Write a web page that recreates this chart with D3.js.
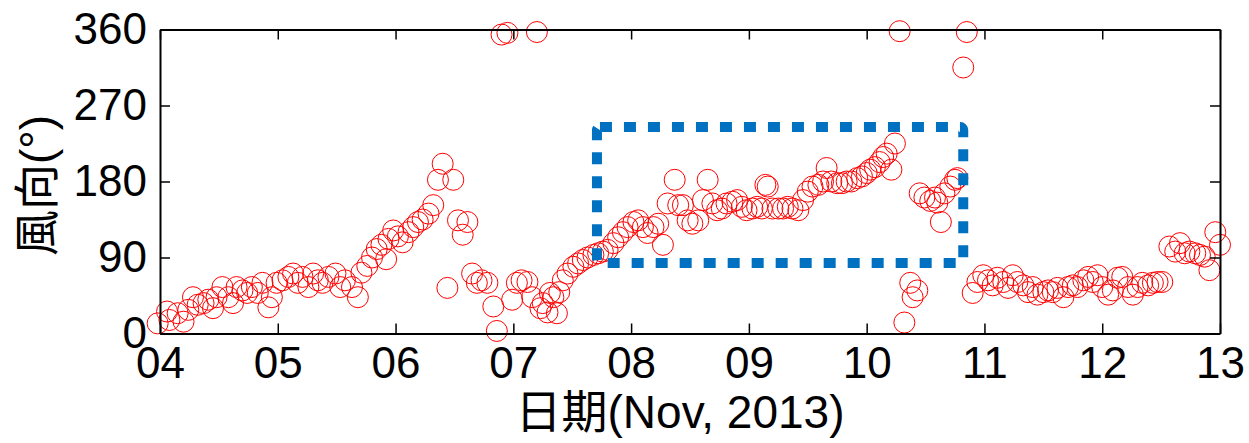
<!DOCTYPE html>
<html>
<head>
<meta charset="utf-8">
<script src="https://cdn.jsdelivr.net/npm/d3@7/dist/d3.min.js"></script>
<style>
  html, body { margin: 0; padding: 0; background: #fff; }
  svg { display: block; }
  .tick text { font-family: "Liberation Sans", Arial, sans-serif; font-size: 44px; fill: #000; }
  .lbl { font-family: "Liberation Sans", Arial, "Noto Sans CJK TC", sans-serif; font-size: 46px; fill: #000; }
</style>
</head>
<body>
<svg id="chart" width="1249" height="443"></svg>
<script>
// Hourly wind direction, Nov 4-13 2013 (day of month, degrees)
const days = [
  3.98, 4.06, 4.08, 4.15, 4.20, 4.24, 4.28, 4.32, 4.37, 4.41, 4.45, 4.48, 4.53, 4.58, 4.62, 4.65,
  4.70, 4.74, 4.78, 4.83, 4.87, 4.92, 4.95, 4.99, 5.04, 5.09, 5.13, 5.17, 5.21, 5.26, 5.30, 5.34,
  5.38, 5.43, 5.49, 5.53, 5.57, 5.63, 5.68, 5.71, 5.76, 5.80, 5.84, 5.88, 5.92, 5.94, 5.98, 6.02,
  6.06, 6.11, 6.15, 6.19, 6.23, 6.28, 6.32, 6.36, 6.40, 6.44, 6.49, 6.53, 6.57, 6.61, 6.65, 6.69,
  6.73, 6.78, 6.83, 6.86, 6.90, 6.95, 6.99, 7.03, 7.07, 7.12, 7.16, 7.20, 7.23, 7.25, 7.29, 7.31,
  7.34, 7.37, 7.39, 7.42, 7.46, 7.51, 7.55, 7.59, 7.63, 7.68, 7.72, 7.76, 7.80, 7.85, 7.89, 7.93,
  7.97, 8.02, 8.06, 8.10, 8.14, 8.19, 8.23, 8.27, 8.31, 8.37, 8.40, 8.44, 8.48, 8.52, 8.57, 8.61,
  8.65, 8.69, 8.73, 8.77, 8.81, 8.86, 8.90, 8.94, 8.98, 9.03, 9.07, 9.11, 9.14, 9.16, 9.20, 9.25,
  9.29, 9.33, 9.37, 9.42, 9.46, 9.50, 9.54, 9.59, 9.63, 9.66, 9.70, 9.75, 9.79, 9.83, 9.87, 9.92,
  9.96, 10.00, 10.03, 10.07, 10.11, 10.14, 10.17, 10.21, 10.24, 10.28, 10.32, 10.37, 10.39, 10.43, 10.45, 10.49,
  10.54, 10.58, 10.60, 10.63, 10.66, 10.71, 10.75, 10.77, 10.82, 10.85, 10.90, 10.94, 10.99, 11.03, 11.07, 11.11,
  11.16, 11.20, 11.24, 11.28, 11.33, 11.37, 11.41, 11.45, 11.50, 11.54, 11.58, 11.62, 11.67, 11.71, 11.75, 11.79,
  11.84, 11.88, 11.92, 11.96, 12.00, 12.05, 12.09, 12.13, 12.17, 12.22, 12.26, 12.30, 12.34, 12.39, 12.43, 12.47,
  12.51, 12.57, 12.62, 12.66, 12.70, 12.74, 12.79, 12.83, 12.87, 12.91, 12.96, 13.00
];
const directions = [
  12, 26, 16, 24, 14, 28, 43, 34, 36, 40, 30, 43, 55, 43, 36, 55,
  51, 48, 55, 48, 60, 31, 43, 60, 63, 67, 71, 60, 67, 55, 71, 63,
  60, 67, 71, 55, 63, 55, 43, 72, 80, 90, 100, 105, 88, 112, 122, 115,
  108, 120, 126, 132, 135, 142, 152, 182, 201, 54, 182, 134, 117, 132, 71, 60,
  63, 60, 32, 3, 354, 356, 40, 60, 63, 61, 43, 357, 30, 36, 25, 48,
  43, 24, 49, 63, 71, 79, 83, 87, 90, 93, 95, 97, 99, 107, 114, 120,
  126, 132, 134, 126, 119, 126, 130, 105, 154, 182, 152, 152, 134, 130, 134, 158,
  182, 154, 146, 148, 154, 156, 158, 150, 146, 148, 150, 148, 176, 174, 148, 148,
  148, 150, 148, 146, 158, 168, 174, 176, 180, 196, 180, 178, 178, 180, 180, 184,
  186, 190, 194, 197, 203, 209, 213, 194, 225, 358, 13, 60, 43, 51, 166, 161,
  157, 161, 155, 132, 166, 174, 182, 184, 315, 357, 48, 61, 69, 63, 57, 66,
  61, 54, 69, 61, 57, 49, 55, 46, 49, 51, 49, 54, 43, 55, 57, 55,
  63, 67, 61, 69, 55, 46, 51, 66, 67, 55, 46, 55, 60, 57, 60, 61,
  61, 103, 97, 107, 95, 97, 95, 93, 91, 75, 120, 105
];

const xTickValues = [4, 5, 6, 7, 8, 9, 10, 11, 12, 13];
const xTickLabels = ["04", "05", "06", "07", "08", "09", "10", "11", "12", "13"];
const yTickValues = [0, 90, 180, 270, 360];

// Highlighted period (days, degrees)
const boxDays = [7.71, 10.82];
const boxDegrees = [83.5, 244.5];

const xLabel = "日期(Nov, 2013)";
const yLabel = "風向(°)";

const svg = d3.select("#chart");
svg.append("rect").attr("width", 1249).attr("height", 443).attr("fill", "#fff");

const plotLeft = 160, plotRight = 1220, plotTop = 29.5, plotBottom = 333.5;
const x = d3.scaleLinear().domain([4, 13]).range([plotLeft, plotRight]);
const y = d3.scaleLinear().domain([0, 360]).range([plotBottom, plotTop]);

const points = days.map((d, i) => ({ day: d, dir: directions[i] }));

// markers
svg.append("g")
  .selectAll("circle")
  .data(points)
  .join("circle")
  .attr("cx", d => x(d.day))
  .attr("cy", d => y(d.dir))
  .attr("r", 10.5)
  .attr("fill", "none")
  .attr("stroke", "#ff0000")
  .attr("stroke-width", 1);

// axes box with inward ticks
function styleAxis(g) {
  g.select(".domain").attr("stroke", "#000").attr("stroke-width", 2);
  g.selectAll(".tick line").attr("stroke", "#000").attr("stroke-width", 1.5);
}

svg.append("g")
  .attr("transform", `translate(0,${plotBottom})`)
  .call(d3.axisBottom(x).tickValues(xTickValues)
    .tickFormat((d, i) => xTickLabels[i])
    .tickSizeInner(-10).tickSizeOuter(0).tickPadding(13))
  .call(styleAxis)
  .call(g => g.attr("font-family", null).attr("font-size", null));

svg.append("g")
  .attr("transform", `translate(0,${plotTop})`)
  .call(d3.axisTop(x).tickValues(xTickValues).tickFormat("")
    .tickSizeInner(-10).tickSizeOuter(0))
  .call(styleAxis);

svg.append("g")
  .attr("transform", `translate(${plotLeft},0)`)
  .call(d3.axisLeft(y).tickValues(yTickValues).tickFormat(d3.format("d"))
    .tickSizeInner(-10).tickSizeOuter(0).tickPadding(13))
  .call(styleAxis)
  .call(g => g.attr("font-family", null).attr("font-size", null));

svg.append("g")
  .attr("transform", `translate(${plotRight},0)`)
  .call(d3.axisRight(y).tickValues(yTickValues).tickFormat("")
    .tickSizeInner(-10).tickSizeOuter(0))
  .call(styleAxis);

// axis titles
svg.append("text")
  .attr("class", "lbl")
  .attr("x", 680)
  .attr("y", 428)
  .attr("text-anchor", "middle")
  .text(xLabel);

svg.append("text")
  .attr("class", "lbl")
  .attr("transform", `translate(37,${(plotTop + plotBottom) / 2 + 4}) rotate(-90)`)
  .attr("text-anchor", "middle")
  .attr("dominant-baseline", "central")
  .text(yLabel);

// dotted highlight box
svg.append("rect")
  .attr("x", x(boxDays[0]))
  .attr("y", y(boxDegrees[1]))
  .attr("width", x(boxDays[1]) - x(boxDays[0]))
  .attr("height", y(boxDegrees[0]) - y(boxDegrees[1]))
  .attr("rx", 3)
  .attr("fill", "none")
  .attr("stroke", "#0070c0")
  .attr("stroke-width", 10)
  .attr("stroke-dasharray", "12,12");
</script>
</body>
</html>
